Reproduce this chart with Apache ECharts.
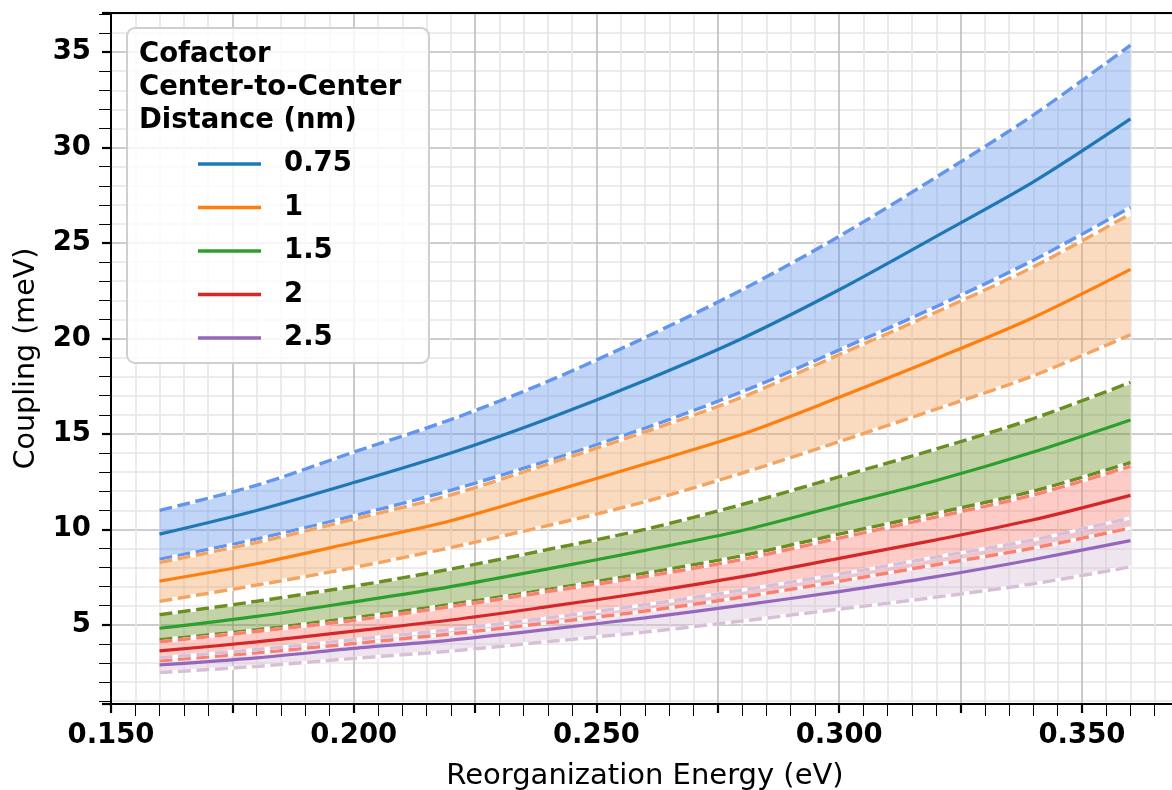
<!DOCTYPE html>
<html>
<head>
<meta charset="utf-8">
<script src="https://cdn.jsdelivr.net/npm/echarts@6/dist/echarts.min.js"></script>
<style>
html,body{margin:0;padding:0;background:#fff;}
#chart{width:1172px;height:790px;}
</style>
</head>
<body>
<div id="chart"></div>
<script>
// Reorganization energy (eV)
const energy = [0.16, 0.18, 0.20, 0.22, 0.24, 0.26, 0.28, 0.30, 0.32, 0.34, 0.36];
const distances = ['0.75', '1', '1.5', '2', '2.5'];

// Coupling (meV): center, upper, lower per distance
const center075 = [9.75, 10.99, 12.45, 14.0, 15.8, 17.8, 20.0, 22.55, 25.35, 28.2, 31.5];
const upper075  = [10.99, 12.31, 14.04, 15.75, 17.75, 20.05, 22.55, 25.35, 28.45, 31.7, 35.36];
const lower075  = [8.43, 9.49, 10.71, 12.05, 13.6, 15.3, 17.21, 19.4, 21.67, 24.1, 26.87];

const center1 = [7.29, 8.20, 9.31, 10.45, 11.91, 13.42, 14.98, 16.92, 18.95, 21.1, 23.62];
const upper1  = [8.26, 9.31, 10.53, 11.8, 13.42, 15.1, 16.92, 19.15, 21.38, 23.75, 26.52];
const lower1  = [6.23, 7.08, 8.0, 9.05, 10.2, 11.45, 12.95, 14.6, 16.3, 18.05, 20.2];

const center15 = [4.82, 5.44, 6.2, 7.0, 7.93, 8.90, 9.94, 11.25, 12.56, 14.05, 15.73];
const upper15  = [5.53, 6.23, 7.02, 7.92, 8.94, 10.0, 11.30, 12.75, 14.21, 15.8, 17.70];
const lower15  = [4.21, 4.74, 5.37, 6.07, 6.85, 7.7, 8.62, 9.75, 10.85, 12.0, 13.50];

const center2 = [3.63, 4.1, 4.67, 5.25, 5.95, 6.69, 7.52, 8.48, 9.45, 10.5, 11.78];
const upper2  = [4.1, 4.65, 5.23, 5.95, 6.74, 7.53, 8.42, 9.54, 10.65, 11.8, 13.30];
const lower2  = [3.12, 3.53, 4.02, 4.52, 5.1, 5.72, 6.45, 7.28, 8.15, 9.02, 10.07];

const center25 = [2.9, 3.27, 3.76, 4.2, 4.76, 5.36, 6.03, 6.74, 7.52, 8.42, 9.41];
const upper25  = [3.27, 3.7, 4.22, 4.75, 5.36, 6.05, 6.82, 7.65, 8.55, 9.45, 10.60];
const lower25  = [2.5, 2.82, 3.24, 3.62, 4.12, 4.62, 5.2, 5.82, 6.45, 7.15, 8.04];

const lineColors = ['#1f77b4', '#ff7f0e', '#2ca02c', '#d62728', '#9467bd'];
const boundColors = ['#6495ED', '#F4A460', '#6B8E23', '#FA8072', '#D8BFD8'];

const groups = [
  [center075, upper075, lower075],
  [center1, upper1, lower1],
  [center15, upper15, lower15],
  [center2, upper2, lower2],
  [center25, upper25, lower25]
];

const pairs = arr => energy.map((x, i) => [x, arr[i]]);
// value first, energy second: lets ECharts stack on the y dimension
const stackPairs = arr => energy.map((x, i) => [arr[i], x]);
const FONT = 'DejaVu Sans';
const SMOOTH = 0.3;
const DASH = [13, 5.5];

const series = [];
groups.forEach((g, k) => {
  const [c, u, l] = g;
  const stackId = 'band' + k;
  series.push({
    type: 'line', name: 'base' + k, stack: stackId, data: stackPairs(l),
    encode: { x: 1, y: 0 }, smooth: SMOOTH,
    symbol: 'none', lineStyle: { opacity: 0 }, silent: true, z: 2
  });
  series.push({
    type: 'line', name: 'fill' + k, stack: stackId, data: stackPairs(u.map((v, i) => v - l[i])),
    encode: { x: 1, y: 0 }, smooth: SMOOTH, symbol: 'none', lineStyle: { opacity: 0 },
    areaStyle: { color: boundColors[k], opacity: 0.4 }, silent: true, z: 2
  });
  [u, l].forEach((b, j) => {
    series.push({
      type: 'line', name: 'white' + k + '_' + j, data: pairs(b), smooth: SMOOTH, symbol: 'none',
      lineStyle: { color: '#ffffff', width: 3.5 }, silent: true, z: 3
    });
    series.push({
      type: 'line', name: 'dash' + k + '_' + j, data: pairs(b), smooth: SMOOTH, symbol: 'none',
      lineStyle: { color: boundColors[k], width: 3.5, type: DASH }, silent: true, z: 3
    });
  });
  series.push({
    type: 'line', name: distances[k], data: pairs(c), smooth: SMOOTH, symbol: 'none',
    color: lineColors[k], lineStyle: { color: lineColors[k], width: 3.2 }, z: 4
  });
});

const chart = echarts.init(document.getElementById('chart'), null, { renderer: 'canvas' });
const isMult = (v, m) => Math.abs(v / m - Math.round(v / m)) < 1e-6;

chart.setOption({
  animation: false,
  backgroundColor: '#ffffff',
  grid: { left: 111, top: 13, width: 1068, height: 691, containLabel: false, outerBoundsMode: 'none' },
  xAxis: [{
    type: 'value', min: 0.15, max: 0.37, interval: 0.025,
    name: 'Reorganization Energy (eV)', nameLocation: 'middle', nameGap: 58,
    nameTextStyle: { fontFamily: FONT, fontSize: 29, color: '#000', lineHeight: 29 },
    axisLine: { show: true, onZero: false, lineStyle: { color: '#000', width: 2 } },
    axisTick: { show: true, length: 9, lineStyle: { color: '#000', width: 2.2 } },
    minorTick: { show: true, splitNumber: 5, length: 12, lineStyle: { color: '#000', width: 1 } },
    axisLabel: {
      fontFamily: FONT, fontSize: 27.5, fontWeight: 'bold', color: '#000', margin: 18, lineHeight: 28,
      formatter: v => isMult(v, 0.05) ? v.toFixed(3) : ''
    },
    splitLine: { show: true, lineStyle: { color: '#bdbdbd', width: 1.6 } },
    minorSplitLine: { show: true, lineStyle: { color: '#e6e6e6', width: 1.6 } }
  }, {
    type: 'value', position: 'top', min: 0.15, max: 0.37,
    axisLine: { show: true, onZero: false, lineStyle: { color: '#000', width: 2 } },
    axisTick: { show: false }, axisLabel: { show: false }, splitLine: { show: false }
  }],
  yAxis: {
    type: 'value', min: 0.85, max: 37.05, splitNumber: 7,
    name: 'Coupling (meV)', nameLocation: 'middle', nameGap: 70,
    nameTextStyle: { fontFamily: FONT, fontSize: 28.5, color: '#000' },
    axisLine: { show: true, onZero: false, lineStyle: { color: '#000', width: 2 } },
    axisTick: { show: true, length: 9, lineStyle: { color: '#000', width: 2.2 } },
    minorTick: { show: true, splitNumber: 5, length: 12, lineStyle: { color: '#000', width: 1 } },
    axisLabel: {
      fontFamily: FONT, fontSize: 27.5, fontWeight: 'bold', color: '#000', margin: 20,
      formatter: v => isMult(v, 5) ? String(Math.round(v)) : ''
    },
    splitLine: { show: true, lineStyle: { color: '#bdbdbd', width: 1.6 } },
    minorSplitLine: { show: true, lineStyle: { color: '#e6e6e6', width: 1.6 } }
  },
  legend: {
    data: distances, orient: 'vertical', left: 198, top: 149, padding: 0,
    icon: 'rect', itemWidth: 63, itemHeight: 3.5, itemGap: 13.5,
    textStyle: { fontFamily: FONT, fontSize: 27.5, fontWeight: 'bold', color: '#000', lineHeight: 30, padding: [0, 0, 0, 18] },
    selectedMode: false, z: 20
  },
  graphic: [{
    type: 'rect', left: 126, top: 27, z: 15,
    shape: { width: 302, height: 335, r: 8 },
    style: { fill: 'rgba(255,255,255,0.8)', stroke: '#cfcfcf', lineWidth: 2 }
  }, {
    type: 'text', left: 139, top: 38, z: 20,
    style: {
      text: 'Cofactor\nCenter-to-Center\nDistance (nm)',
      font: 'bold 27.5px "DejaVu Sans"', fill: '#000', lineHeight: 33
    }
  }],
  series: series
});
</script>
</body>
</html>
